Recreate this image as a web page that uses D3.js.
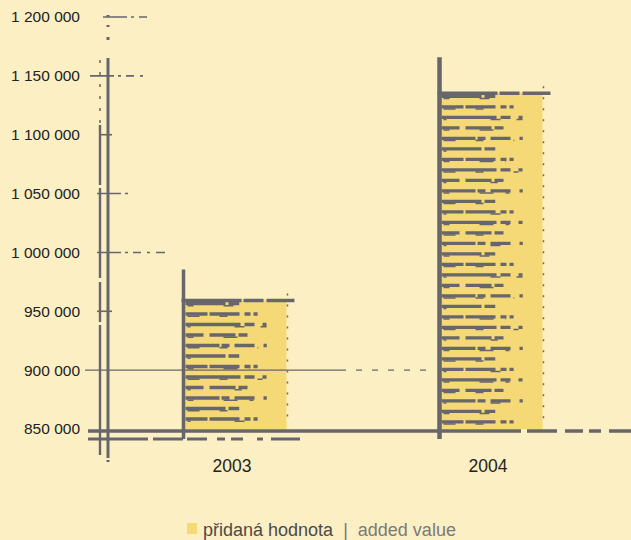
<!DOCTYPE html>
<html>
<head>
<meta charset="utf-8">
<script src="https://cdn.jsdelivr.net/npm/d3@7"></script>
<style>
  body { margin: 0; background: #fcefc4; }
  svg { display: block; font-family: "Liberation Sans", Arial, sans-serif; }
</style>
</head>
<body>
<div id="chart-area"></div>
<script>
var years = ["2003", "2004"];
var addedValue = [960000, 1136000];
var yTicks = [850000, 900000, 950000, 1000000, 1050000, 1100000, 1150000, 1200000];

var ink = "#67666b";

var svg = d3.select("#chart-area").append("svg")
    .attr("width", 631)
    .attr("height", 540);

svg.append("rect").attr("width", 631).attr("height", 540).attr("fill", "#fcefc4");

var y = d3.scaleLinear().domain([850000, 1200000]).range([429, 17]);
var x = d3.scaleBand().domain(years).range([106, 618])
    .paddingInner(0.59).paddingOuter(0.295);

var loc = d3.formatLocale({decimal: ",", thousands: " ", grouping: [3], currency: ["", ""]});
var fmt = loc.format(",");

// y labels
var yAxis = svg.append("g")
    .attr("transform", "translate(80,0)")
    .call(d3.axisLeft(y).tickValues(yTicks).tickSize(0).tickPadding(0).tickFormat(fmt));
yAxis.select(".domain").remove();
yAxis.selectAll("text")
    .attr("font-size", 15.5)
    .attr("fill", "#222")
    .attr("font-family", "Liberation Sans, Arial, sans-serif");

// bars
var bars = svg.append("g");
var pats = ["40,3,20,4,12,6,8", "22,2,30,5,6,3,14", "55,4,10,8,4", "18,6,26,3,9,7", "34,2,8,5,20,9"];
var pats2 = ["6,30,14,12,4,40", "12,20,8,30,5,25", "3,44,10,16,7,30"];
years.forEach((yr, i) => {
    var x0 = x(yr), w = x.bandwidth(), top = y(addedValue[i]), base = y(850000);
    bars.append("rect")
        .attr("x", x0).attr("y", top)
        .attr("width", w).attr("height", base - top)
        .attr("fill", "#f6d977");
    // sketchy hatch streaks
    var n = 0;
    for (var yy = top + 4; yy < base - 6; yy += 10.5) {
        var len = w * (0.55 + 0.35 * ((n * 7) % 5) / 4);
        bars.append("line")
            .attr("x1", x0 + 4).attr("x2", x0 + len)
            .attr("y1", yy).attr("y2", yy)
            .attr("stroke", ink)
            .attr("stroke-width", 3.4)
            .attr("stroke-dasharray", pats[n % 5]);
        bars.append("line")
            .attr("x1", x0 + 6).attr("x2", x0 + len * 0.9)
            .attr("y1", yy + 2.2).attr("y2", yy + 2.2)
            .attr("stroke", ink)
            .attr("stroke-width", 1.6)
            .attr("stroke-dasharray", pats2[n % 3]);
        n++;
    }
    // top edge
    bars.append("line")
        .attr("x1", x0).attr("x2", x0 + w + 8)
        .attr("y1", top + 1).attr("y2", top + 1)
        .attr("stroke", ink).attr("stroke-width", 3.5)
        .attr("stroke-dasharray", "60,2,20,3,30,2");
    // left edge
    bars.append("line")
        .attr("x1", x0 + 2).attr("x2", x0 + 2)
        .attr("y1", top - (i == 0 ? 30 : 35)).attr("y2", base + 10)
        .attr("stroke", ink).attr("stroke-width", i == 0 ? 3.5 : 4.5);
    // right edge, dotted
    bars.append("line")
        .attr("x1", x0 + w + 1).attr("x2", x0 + w + 1)
        .attr("y1", top - 6).attr("y2", base - 4)
        .attr("stroke", ink).attr("stroke-width", 1.5)
        .attr("stroke-dasharray", "2,9");
});

// grid line at 900 000
svg.append("line")
    .attr("x1", 85).attr("x2", 340)
    .attr("y1", y(900000)).attr("y2", y(900000))
    .attr("stroke", ink).attr("stroke-width", 1.2);
svg.append("line")
    .attr("x1", 340).attr("x2", 432)
    .attr("y1", y(900000)).attr("y2", y(900000))
    .attr("stroke", ink).attr("stroke-width", 1.2)
    .attr("stroke-dasharray", "6,10");

// tick strokes
var tickLen = {1200000: [103, 150], 1150000: [90, 145], 1100000: [100, 112], 1050000: [97, 130],
               1000000: [97, 165], 950000: [97, 112]};
yTicks.forEach((t) => {
    if (!tickLen[t]) return;
    svg.append("line")
        .attr("x1", tickLen[t][0]).attr("x2", tickLen[t][1])
        .attr("y1", y(t)).attr("y2", y(t))
        .attr("stroke", ink).attr("stroke-width", 1.6)
        .attr("stroke-dasharray", "24,4,3,5,8,6,3,6");
});

// y axis double line
svg.append("line")
    .attr("x1", 100).attr("x2", 100).attr("y1", 125).attr("y2", 455)
    .attr("stroke", ink).attr("stroke-width", 2.4)
    .attr("stroke-dasharray", "60,3,90,4,40,3,160");
svg.append("line")
    .attr("x1", 100).attr("x2", 100).attr("y1", 60).attr("y2", 125)
    .attr("stroke", ink).attr("stroke-width", 1.5)
    .attr("stroke-dasharray", "3,9");
svg.append("line")
    .attr("x1", 108).attr("x2", 108).attr("y1", 15).attr("y2", 462)
    .attr("stroke", ink).attr("stroke-width", 3)
    .attr("stroke-dasharray", "2,8,2,10,3,18,400");

// x axis double line
svg.append("line")
    .attr("x1", 88).attr("x2", 631).attr("y1", y(850000) + 2).attr("y2", y(850000) + 2)
    .attr("stroke", ink).attr("stroke-width", 3.5)
    .attr("stroke-dasharray", "350,3,80,6,30,8,18,6,12,8");
svg.append("line")
    .attr("x1", 88).attr("x2", 300).attr("y1", y(850000) + 10).attr("y2", y(850000) + 10)
    .attr("stroke", ink).attr("stroke-width", 3)
    .attr("stroke-dasharray", "60,5,30,4,20,10,8,6,12,14,6,8");

// category labels
svg.append("g").selectAll("text").data(years).join("text")
    .attr("x", (d) => x(d) + x.bandwidth() / 2 - 2)
    .attr("y", 472)
    .attr("text-anchor", "middle")
    .attr("font-size", 17.5)
    .attr("fill", "#222")
    .text((d) => d);

// legend
var lg = svg.append("g").attr("transform", "translate(187,523)");
lg.append("rect").attr("width", 10).attr("height", 11).attr("fill", "#f6d977");
var lt = lg.append("text").attr("x", 16).attr("y", 13).attr("font-size", 18);
lt.append("tspan").attr("fill", "#4a4a4a").text("přidaná hodnota");
lt.append("tspan").attr("fill", "#777").attr("dx", 10).text("|");
lt.append("tspan").attr("fill", "#7a7a7a").attr("dx", 10).text("added value");
</script>
</body>
</html>
